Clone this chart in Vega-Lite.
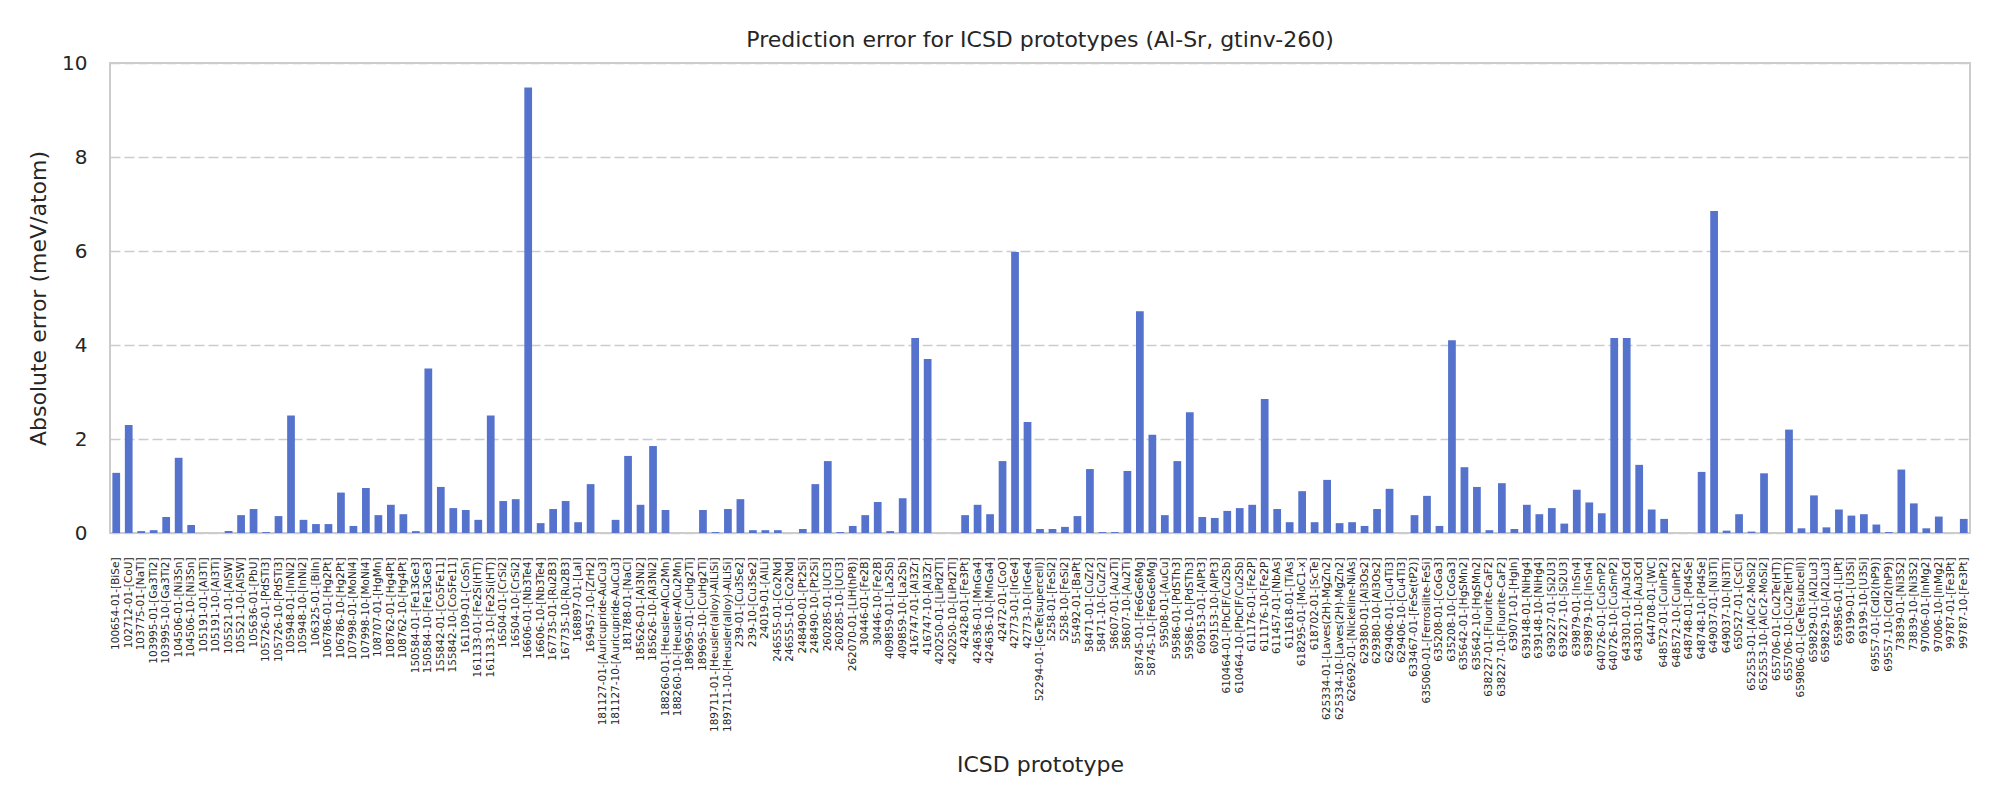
{
 "$schema": "https://vega.github.io/schema/vega-lite/v6.json",
 "width": 1860,
 "height": 470,
 "autosize": {"type": "none"},
 "padding": {"left": 110, "top": 63, "right": 30, "bottom": 267},
 "background": "white",
 "title": {"text": "Prediction error for ICSD prototypes (Al-Sr, gtinv-260)", "fontSize": 22, "fontWeight": "normal", "font": "DejaVu Sans", "color": "#262626", "offset": 1, "frame": "group"},
 "config": {"view": {"stroke": "#cccccc", "strokeWidth": 2}, "font": "DejaVu Sans"},
 "data": {"values": [
  {"prototype": "100654-01-[BiSe]", "error": 1.28},
  {"prototype": "102712-01-[CoU]", "error": 2.30},
  {"prototype": "103775-01-[NaTl]", "error": 0.04},
  {"prototype": "103995-01-[Ga3Ti2]", "error": 0.06},
  {"prototype": "103995-10-[Ga3Ti2]", "error": 0.34},
  {"prototype": "104506-01-[Ni3Sn]", "error": 1.60},
  {"prototype": "104506-10-[Ni3Sn]", "error": 0.17},
  {"prototype": "105191-01-[Al3Ti]", "error": 0.0},
  {"prototype": "105191-10-[Al3Ti]", "error": 0.0},
  {"prototype": "105521-01-[AlSW]", "error": 0.04},
  {"prototype": "105521-10-[AlSW]", "error": 0.38},
  {"prototype": "105636-01-[PbU]", "error": 0.51},
  {"prototype": "105726-01-[PdSTi3]", "error": 0.02},
  {"prototype": "105726-10-[PdSTi3]", "error": 0.36},
  {"prototype": "105948-01-[InNi2]", "error": 2.50},
  {"prototype": "105948-10-[InNi2]", "error": 0.28},
  {"prototype": "106325-01-[BiIn]", "error": 0.19},
  {"prototype": "106786-01-[Hg2Pt]", "error": 0.19},
  {"prototype": "106786-10-[Hg2Pt]", "error": 0.86},
  {"prototype": "107998-01-[MoNi4]", "error": 0.15},
  {"prototype": "107998-10-[MoNi4]", "error": 0.96},
  {"prototype": "108707-01-[HgMn]", "error": 0.38},
  {"prototype": "108762-01-[Hg4Pt]", "error": 0.60},
  {"prototype": "108762-10-[Hg4Pt]", "error": 0.40},
  {"prototype": "150584-01-[Fe13Ge3]", "error": 0.04},
  {"prototype": "150584-10-[Fe13Ge3]", "error": 3.50},
  {"prototype": "155842-01-[Co5Fe11]", "error": 0.98},
  {"prototype": "155842-10-[Co5Fe11]", "error": 0.53},
  {"prototype": "161109-01-[CoSn]", "error": 0.49},
  {"prototype": "161133-01-[Fe2Si(HT)]", "error": 0.28},
  {"prototype": "161133-10-[Fe2Si(HT)]", "error": 2.50},
  {"prototype": "16504-01-[CrSi2]", "error": 0.68},
  {"prototype": "16504-10-[CrSi2]", "error": 0.72},
  {"prototype": "16606-01-[Nb3Te4]", "error": 9.48},
  {"prototype": "16606-10-[Nb3Te4]", "error": 0.21},
  {"prototype": "167735-01-[Ru2B3]", "error": 0.51},
  {"prototype": "167735-10-[Ru2B3]", "error": 0.68},
  {"prototype": "168897-01-[LaI]", "error": 0.23},
  {"prototype": "169457-10-[ZrH2]", "error": 1.04},
  {"prototype": "181127-01-[Auricupride-AuCu3]", "error": 0.0},
  {"prototype": "181127-10-[Auricupride-AuCu3]", "error": 0.28},
  {"prototype": "181788-01-[NaCl]", "error": 1.64},
  {"prototype": "185626-01-[Al3Ni2]", "error": 0.60},
  {"prototype": "185626-10-[Al3Ni2]", "error": 1.85},
  {"prototype": "188260-01-[Heusler-AlCu2Mn]", "error": 0.49},
  {"prototype": "188260-10-[Heusler-AlCu2Mn]", "error": 0.0},
  {"prototype": "189695-01-[CuHg2Ti]", "error": 0.0},
  {"prototype": "189695-10-[CuHg2Ti]", "error": 0.49},
  {"prototype": "189711-01-[Heusler(alloy)-AlLiSi]", "error": 0.02},
  {"prototype": "189711-10-[Heusler(alloy)-AlLiSi]", "error": 0.51},
  {"prototype": "239-01-[Cu3Se2]", "error": 0.72},
  {"prototype": "239-10-[Cu3Se2]", "error": 0.06},
  {"prototype": "24019-01-[AlLi]", "error": 0.06},
  {"prototype": "246555-01-[Co2Nd]", "error": 0.06},
  {"prototype": "246555-10-[Co2Nd]", "error": 0.0},
  {"prototype": "248490-01-[Pt2Si]", "error": 0.085},
  {"prototype": "248490-10-[Pt2Si]", "error": 1.04},
  {"prototype": "260285-01-[UCl3]", "error": 1.53},
  {"prototype": "260285-10-[UCl3]", "error": 0.02},
  {"prototype": "262070-01-[LiH(hP8)]", "error": 0.15},
  {"prototype": "30446-01-[Fe2B]", "error": 0.38},
  {"prototype": "30446-10-[Fe2B]", "error": 0.66},
  {"prototype": "409859-01-[La2Sb]", "error": 0.04},
  {"prototype": "409859-10-[La2Sb]", "error": 0.74},
  {"prototype": "416747-01-[Al3Zr]", "error": 4.15},
  {"prototype": "416747-10-[Al3Zr]", "error": 3.70},
  {"prototype": "420250-01-[LiPd2Tl]", "error": 0.0},
  {"prototype": "420250-10-[LiPd2Tl]", "error": 0.0},
  {"prototype": "42428-01-[Fe3Pt]", "error": 0.38},
  {"prototype": "424636-01-[MnGa4]", "error": 0.60},
  {"prototype": "424636-10-[MnGa4]", "error": 0.40},
  {"prototype": "42472-01-[CoO]", "error": 1.53},
  {"prototype": "42773-01-[IrGe4]", "error": 5.98},
  {"prototype": "42773-10-[IrGe4]", "error": 2.36},
  {"prototype": "52294-01-[GeTe(supercell)]", "error": 0.085},
  {"prototype": "5258-01-[FeSi2]", "error": 0.085},
  {"prototype": "5258-10-[FeSi2]", "error": 0.13},
  {"prototype": "55492-01-[BaPt]", "error": 0.36},
  {"prototype": "58471-01-[CuZr2]", "error": 1.36},
  {"prototype": "58471-10-[CuZr2]", "error": 0.02},
  {"prototype": "58607-01-[Au2Ti]", "error": 0.02},
  {"prototype": "58607-10-[Au2Ti]", "error": 1.32},
  {"prototype": "58745-01-[Fe6Ge6Mg]", "error": 4.72},
  {"prototype": "58745-10-[Fe6Ge6Mg]", "error": 2.09},
  {"prototype": "59508-01-[AuCu]", "error": 0.38},
  {"prototype": "59586-01-[PdSTh3]", "error": 1.53},
  {"prototype": "59586-10-[PdSTh3]", "error": 2.57},
  {"prototype": "609153-01-[AlPt3]", "error": 0.34},
  {"prototype": "609153-10-[AlPt3]", "error": 0.32},
  {"prototype": "610464-01-[PbClF/Cu2Sb]", "error": 0.47},
  {"prototype": "610464-10-[PbClF/Cu2Sb]", "error": 0.53},
  {"prototype": "611176-01-[Fe2P]", "error": 0.60},
  {"prototype": "611176-10-[Fe2P]", "error": 2.85},
  {"prototype": "611457-01-[NbAs]", "error": 0.51},
  {"prototype": "611618-01-[TiAs]", "error": 0.23},
  {"prototype": "618295-01-[MoC1-x]", "error": 0.89},
  {"prototype": "618702-01-[ScTe]", "error": 0.23},
  {"prototype": "625334-01-[Laves(2H)-MgZn2]", "error": 1.13},
  {"prototype": "625334-10-[Laves(2H)-MgZn2]", "error": 0.21},
  {"prototype": "626692-01-[Nickeline-NiAs]", "error": 0.23},
  {"prototype": "629380-01-[Al3Os2]", "error": 0.15},
  {"prototype": "629380-10-[Al3Os2]", "error": 0.51},
  {"prototype": "629406-01-[Cu4Ti3]", "error": 0.94},
  {"prototype": "629406-10-[Cu4Ti3]", "error": 0.0},
  {"prototype": "633467-01-[FeSe(tP2)]", "error": 0.38},
  {"prototype": "635060-01-[Ferrosilite-FeSi]", "error": 0.79},
  {"prototype": "635208-01-[CoGa3]", "error": 0.15},
  {"prototype": "635208-10-[CoGa3]", "error": 4.10},
  {"prototype": "635642-01-[HgSMn2]", "error": 1.40},
  {"prototype": "635642-10-[HgSMn2]", "error": 0.98},
  {"prototype": "638227-01-[Fluorite-CaF2]", "error": 0.06},
  {"prototype": "638227-10-[Fluorite-CaF2]", "error": 1.06},
  {"prototype": "639071-01-[HgIn]", "error": 0.085},
  {"prototype": "639148-01-[NiHg4]", "error": 0.60},
  {"prototype": "639148-10-[NiHg4]", "error": 0.40},
  {"prototype": "639227-01-[Si2U3]", "error": 0.53},
  {"prototype": "639227-10-[Si2U3]", "error": 0.20},
  {"prototype": "639879-01-[InSn4]", "error": 0.92},
  {"prototype": "639879-10-[InSn4]", "error": 0.65},
  {"prototype": "640726-01-[CuSmP2]", "error": 0.42},
  {"prototype": "640726-10-[CuSmP2]", "error": 4.15},
  {"prototype": "643301-01-[Au3Cd]", "error": 4.15},
  {"prototype": "643301-10-[Au3Cd]", "error": 1.45},
  {"prototype": "644708-01-[WC]", "error": 0.50},
  {"prototype": "648572-01-[CuInPt2]", "error": 0.30},
  {"prototype": "648572-10-[CuInPt2]", "error": 0.0},
  {"prototype": "648748-01-[Pd4Se]", "error": 0.0},
  {"prototype": "648748-10-[Pd4Se]", "error": 1.30},
  {"prototype": "649037-01-[Ni3Ti]", "error": 6.85},
  {"prototype": "649037-10-[Ni3Ti]", "error": 0.05},
  {"prototype": "650527-01-[CsCl]", "error": 0.40},
  {"prototype": "652553-01-[AlCr2-MoSi2]", "error": 0.03},
  {"prototype": "652553-10-[AlCr2-MoSi2]", "error": 1.27},
  {"prototype": "655706-01-[Cu2Te(HT)]", "error": 0.0},
  {"prototype": "655706-10-[Cu2Te(HT)]", "error": 2.20},
  {"prototype": "659806-01-[GeTe(subcell)]", "error": 0.10},
  {"prototype": "659829-01-[Al2Lu3]", "error": 0.80},
  {"prototype": "659829-10-[Al2Lu3]", "error": 0.12},
  {"prototype": "659856-01-[LiPt]", "error": 0.50},
  {"prototype": "69199-01-[U3Si]", "error": 0.37},
  {"prototype": "69199-10-[U3Si]", "error": 0.40},
  {"prototype": "69557-01-[CdI2(hP9)]", "error": 0.18},
  {"prototype": "69557-10-[CdI2(hP9)]", "error": 0.02},
  {"prototype": "73839-01-[Ni3S2]", "error": 1.35},
  {"prototype": "73839-10-[Ni3S2]", "error": 0.63},
  {"prototype": "97006-01-[InMg2]", "error": 0.10},
  {"prototype": "97006-10-[InMg2]", "error": 0.35},
  {"prototype": "99787-01-[Fe3Pt]", "error": 0.0},
  {"prototype": "99787-10-[Fe3Pt]", "error": 0.30}
 ]},
 "mark": {"type": "bar", "color": "#5573cd"},
 "encoding": {
  "x": {"field": "prototype", "type": "nominal", "sort": null,
   "scale": {"paddingInner": 0.38, "paddingOuter": 0.19},
   "axis": {"title": "ICSD prototype", "labelAngle": -90, "labelFontSize": 10.5, "labelColor": "#262626", "labelPadding": 24, "ticks": false, "domain": false, "labelOverlap": false, "labelLimit": 0,
    "titleFontSize": 22, "titleFontWeight": "normal", "titleColor": "#262626", "titleY": 231, "titleBaseline": "middle"}},
  "y": {"field": "error", "type": "quantitative",
   "scale": {"domain": [0, 10], "nice": false},
   "axis": {"title": "Absolute error (meV/atom)", "values": [0, 2, 4, 6, 8, 10], "ticks": false, "domain": false, "labelFontSize": 20, "labelColor": "#262626", "labelPadding": 23,
    "gridColor": "#cccccc", "gridDash": [10, 4], "gridWidth": 1.5,
    "titleFontSize": 22, "titleFontWeight": "normal", "titleColor": "#262626", "titleX": -72, "titleBaseline": "middle"}}
 }
}
